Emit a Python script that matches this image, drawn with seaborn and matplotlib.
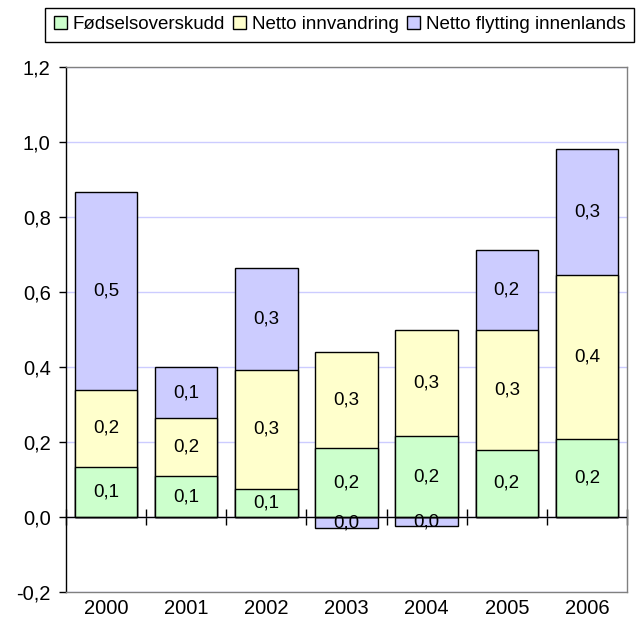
import seaborn as sns
import matplotlib.pyplot as plt
import pandas as pd
import numpy as np
from matplotlib.patches import Patch

years = ['2000', '2001', '2002', '2003', '2004', '2005', '2006']
fodsel = [0.134, 0.109, 0.075, 0.183, 0.216, 0.180, 0.209]
innvandring = [0.205, 0.156, 0.317, 0.258, 0.282, 0.320, 0.436]
flytting = [0.528, 0.134, 0.271, -0.030, -0.024, 0.212, 0.335]

series_names = ['Fødselsoverskudd', 'Netto innvandring', 'Netto flytting innenlands']
colors = ['#CCFFCC', '#FFFFCC', '#CCCCFF']

plt.rcParams['font.family'] = ['Liberation Sans', 'DejaVu Sans']

g = np.array(fodsel)
y = np.array(innvandring)
p = np.array(flytting)

# overlay trick: draw cumulative heights, largest first
top_purple = np.where(p > 0, g + y + p, p)
df = pd.DataFrame({
    'year': years,
    'purple': top_purple,
    'yellow': g + y,
    'green': g,
})

fig, ax = plt.subplots(figsize=(6.42, 6.35), dpi=100)
fig.subplots_adjust(left=0.1028, right=0.9766, top=0.8945, bottom=0.0677)

for col, c in [('purple', colors[2]), ('yellow', colors[1]), ('green', colors[0])]:
    sns.barplot(data=df, x='year', y=col, color=c, width=0.78, saturation=1,
                edgecolor='black', linewidth=1, ax=ax, zorder=3)

# segment labels
fmt = lambda v: f'{v:.1f}'.replace('.', ',').replace('-0,0', '0,0')
lab_fs = 13.5
for i in range(len(years)):
    ax.text(i, g[i] / 2, fmt(g[i]), ha='center', va='center', fontsize=lab_fs, zorder=6)
    ax.text(i, g[i] + y[i] / 2, fmt(y[i]), ha='center', va='center', fontsize=lab_fs, zorder=6)
    if p[i] > 0:
        ax.text(i, g[i] + y[i] + p[i] / 2, fmt(p[i]), ha='center', va='center', fontsize=lab_fs, zorder=6)
    else:
        ax.text(i, p[i] / 2, fmt(p[i]), ha='center', va='center', fontsize=lab_fs, zorder=6)

ax.set_xlim(-0.5, 6.5)
ax.set_ylim(-0.2, 1.2)
ax.set_xlabel('')
ax.set_ylabel('')

yt = [-0.2, 0.0, 0.2, 0.4, 0.6, 0.8, 1.0, 1.2]
ax.set_yticks(yt)
ax.set_yticklabels([f'{v:.1f}'.replace('.', ',') for v in yt], fontsize=14.5)
ax.tick_params(axis='y', length=5, width=1, pad=6, color='black')
ax.tick_params(axis='x', length=0, pad=5, labelsize=14.5)
ax.yaxis.grid(True, color='#CCCCFF', linewidth=1, zorder=0)
ax.set_axisbelow(True)

for side in ['top', 'right', 'bottom']:
    ax.spines[side].set_color('#808080')
    ax.spines[side].set_linewidth(1)
ax.spines['left'].set_color('black')
ax.spines['left'].set_linewidth(1)

# zero line with category separator ticks
ax.axhline(0, color='black', linewidth=1, zorder=5)
sec = ax.secondary_xaxis(0.2 / 1.4)
sec.spines['bottom'].set_visible(False)
sec.set_xticks(np.arange(-0.5, 7, 1.0))
sec.set_xticklabels([])
sec.tick_params(axis='x', direction='inout', length=11, width=1, color='black')

handles = [Patch(facecolor=c, edgecolor='black', linewidth=1) for c in colors]
leg = fig.legend(handles, series_names, loc='center', bbox_to_anchor=(0.529, 0.961),
                 ncol=3, fontsize=13.5, frameon=True, fancybox=False, framealpha=1,
                 edgecolor='black', handlelength=0.7, handleheight=0.7,
                 handletextpad=0.3, columnspacing=0.45, borderpad=0.45)
leg.get_frame().set_linewidth(1)

plt.savefig('out.png', dpi=100)
